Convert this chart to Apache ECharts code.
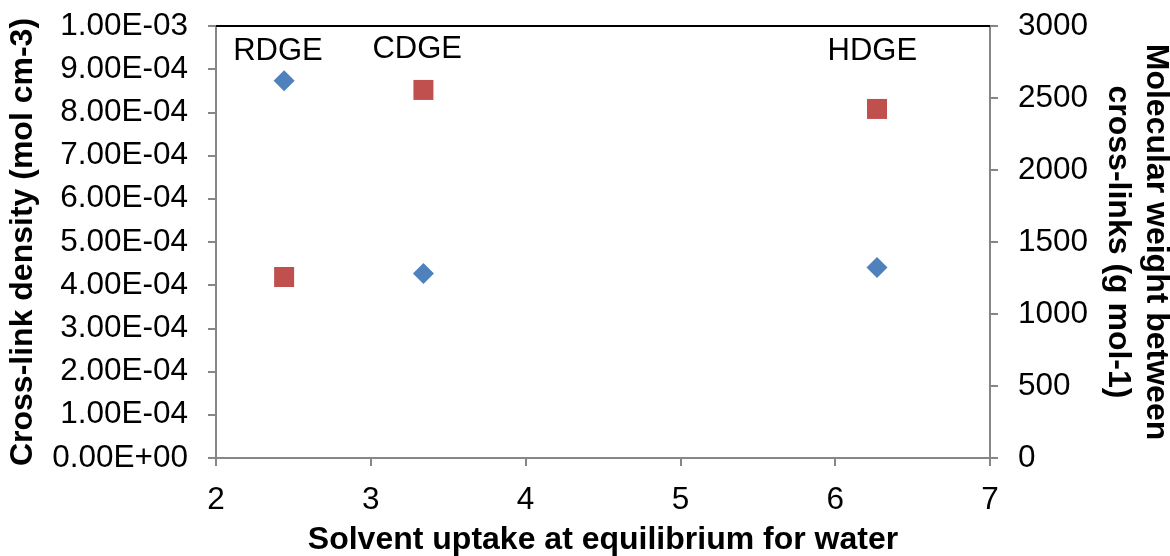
<!DOCTYPE html>
<html>
<head>
<meta charset="utf-8">
<script src="https://cdn.jsdelivr.net/npm/echarts@6.0.0/dist/echarts.min.js"></script>
<style>
html,body{margin:0;padding:0;background:#fff;}
#chart{width:1170px;height:556px;}
</style>
</head>
<body>
<div id="chart"></div>
<script>
// Data
var solventUptake = [2.44, 3.34, 6.27];
var crossLinkDensity = [8.73e-4, 4.27e-4, 4.41e-4];
var molecularWeight = [1257, 2556, 2424];
var sampleNames = ['RDGE', 'CDGE', 'HDGE'];
var sampleLabelX = [2.40, 3.30, 6.24];
var sampleLabelY = [9.42e-4, 9.46e-4, 9.42e-4];
var xTitle = 'Solvent uptake at equilibrium for water';
var yLeftTitle = 'Cross-link density (mol cm-3)';
var yRightTitle = 'Molecular weight between\ncross-links (g mol-1)';

function sci(v) {
  if (v === 0) return '0.00E+00';
  var s = v.toExponential(2).toUpperCase();
  var parts = s.split('E');
  var exp = parseInt(parts[1], 10);
  var sign = exp < 0 ? '-' : '+';
  var a = Math.abs(exp);
  return parts[0] + 'E' + sign + (a < 10 ? '0' + a : '' + a);
}

var FONT = '"Liberation Sans", Arial, sans-serif';
var axisGray = '#868686';
var TICK_FS = 31.5;

var chart = echarts.init(document.getElementById('chart'), null, {renderer: 'canvas'});
chart.setOption({
  animation: false,
  backgroundColor: '#ffffff',
  grid: {left: 216, right: 180, top: 26, bottom: 98, containLabel: false, outerBoundsMode: 'none'},
  xAxis: [{
    type: 'value', min: 2, max: 7, interval: 1,
    name: xTitle, nameLocation: 'middle', nameGap: 66,
    nameTextStyle: {fontFamily: FONT, fontSize: 32, fontWeight: 'bold', color: '#000'},
    axisLine: {show: true, onZero: false, lineStyle: {color: axisGray, width: 2}},
    axisTick: {show: true, inside: false, length: 8, lineStyle: {color: axisGray, width: 2}},
    axisLabel: {fontFamily: FONT, fontSize: TICK_FS, color: '#000', margin: 26},
    splitLine: {show: false}
  }, {
    type: 'value', min: 2, max: 7, position: 'top',
    axisLine: {show: true, onZero: false, lineStyle: {color: '#000', width: 2}},
    axisTick: {show: false}, axisLabel: {show: false}, splitLine: {show: false}
  }],
  yAxis: [{
    type: 'value', min: 0, max: 0.001, interval: 0.0001, position: 'left',
    name: yLeftTitle, nameLocation: 'middle', nameGap: 177, nameRotate: 90,
    nameTextStyle: {fontFamily: FONT, fontSize: 32, fontWeight: 'bold', color: '#000'},
    axisLine: {show: true, onZero: false, lineStyle: {color: axisGray, width: 2}},
    axisTick: {show: true, inside: false, length: 8, lineStyle: {color: axisGray, width: 2}},
    axisLabel: {fontFamily: FONT, fontSize: TICK_FS, color: '#000', margin: 28, formatter: sci},
    splitLine: {show: false}
  }, {
    type: 'value', min: 0, max: 3000, interval: 500, position: 'right',
    name: yRightTitle, nameLocation: 'middle', nameGap: 103, nameRotate: -90,
    nameTextStyle: {fontFamily: FONT, fontSize: 32, fontWeight: 'bold', color: '#000', lineHeight: 38},
    axisLine: {show: true, onZero: false, lineStyle: {color: axisGray, width: 2}},
    axisTick: {show: true, inside: false, length: 8, lineStyle: {color: axisGray, width: 2}},
    axisLabel: {fontFamily: FONT, fontSize: TICK_FS, color: '#000', margin: 28,
      formatter: function (v) { return String(v); }},
    splitLine: {show: false}
  }],
  series: [{
    type: 'scatter', xAxisIndex: 0, yAxisIndex: 0,
    symbol: 'diamond', symbolSize: [21, 21],
    itemStyle: {color: '#4F81BD', opacity: 1},
    data: solventUptake.map(function (x, i) { return [x, crossLinkDensity[i]]; })
  }, {
    type: 'scatter', xAxisIndex: 0, yAxisIndex: 1,
    symbol: 'rect', symbolSize: [20, 20],
    itemStyle: {color: '#C0504D', opacity: 1},
    data: solventUptake.map(function (x, i) { return [x, molecularWeight[i]]; })
  }, {
    type: 'scatter', xAxisIndex: 0, yAxisIndex: 0,
    symbolSize: 0, silent: true,
    itemStyle: {opacity: 1},
    label: {show: true, position: 'inside', fontFamily: FONT, fontSize: 31, color: '#000', opacity: 1,
      formatter: function (p) { return p.name; }},
    data: sampleNames.map(function (n, i) { return {name: n, value: [sampleLabelX[i], sampleLabelY[i]]}; })
  }]
});
</script>
</body>
</html>
